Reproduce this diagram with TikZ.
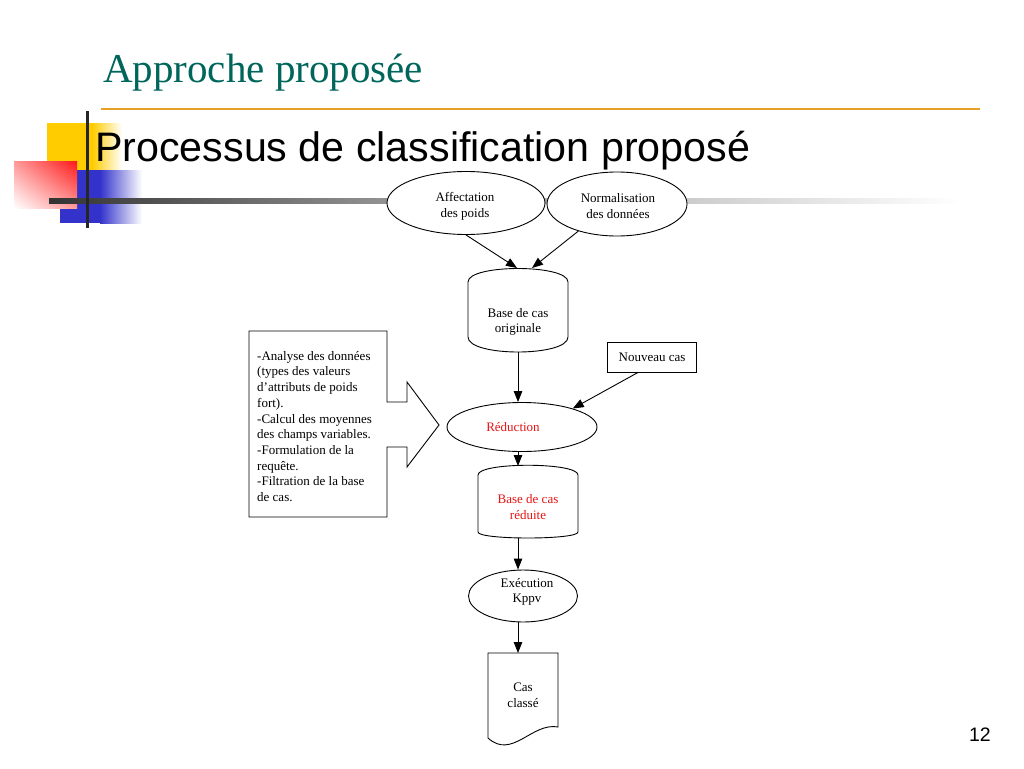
\documentclass[tikz,border=0pt]{standalone}
\usepackage{fontspec}
\setmainfont{Liberation Serif}
\newfontfamily\sansfont{Liberation Sans}
\usetikzlibrary{arrows.meta,shapes,shadings,positioning}
\definecolor{titre}{RGB}{0,102,92}
\definecolor{filet}{RGB}{230,160,40}
\definecolor{jaune}{RGB}{255,204,0}
\definecolor{bleu}{RGB}{51,51,204}
\definecolor{rouge}{RGB}{255,25,25}
\definecolor{texterouge}{RGB}{230,20,20}
\tikzset{boite/.style={draw, fill=white, line width=0.9pt, align=center, font=\fontsize{13}{15.7}\selectfont}}
\tikzset{ovale/.style={boite, ellipse, inner sep=0pt}}
\tikzset{texte/.style={align=center, inner sep=0pt, font=\fontsize{13}{15.7}\selectfont}}
\tikzset{fleche/.style={-{Triangle[length=11pt,width=8.5pt]}, line width=0.9pt}}

\begin{document}
\begin{tikzpicture}[x=1pt,y=-1pt]
\useasboundingbox[fill=white] (0,0) rectangle (1024,768);

% decor de la diapositive
\fill[jaune] (47,123) rectangle (92,170);
\shade[left color=jaune, right color=white] (92,123) rectangle (122,170);
\fill[bleu] (60,170) rectangle (100,223);
\shade[left color=bleu, right color=white] (100,170) rectangle (142,223);
\shade[upper left=rouge!45, upper right=rouge, lower left=white, lower right=rouge!45] (14,161) rectangle (77,208);
\shade[left color=black!80, right color=black!42] (49,198.5) rectangle (390,203.5);
\shade[left color=black!42, right color=white] (390,198.5) rectangle (960,203.5);
\draw[line width=3pt, black!85] (87,111) -- (87,228);
\draw[line width=2pt, filet] (101,109) -- (980,109);

\node[anchor=base west, inner sep=0pt, text=titre, font=\fontsize{41}{41}\selectfont] (titre) at (103,82) {Approche proposée};
\node[anchor=base west, inner sep=0pt, font=\sansfont\fontsize{41.2}{41.2}\selectfont] (soustitre) at (95,161) {Processus de classification proposé};
\node[anchor=base east, inner sep=0pt, font=\sansfont\fontsize{19.5}{19.5}\selectfont] (page) at (991,741) {12};

% ellipses du haut
\node[ovale, minimum width=158, minimum height=63] (affect) at (466,203) {};
\node[texte] (affecttxt) at (465,206) {Affectation\\des poids};
\node[ovale, minimum width=140, minimum height=64] (norm) at (617,204) {};
\node[texte] (normtxt) at (618,206) {Normalisation\\des données};

% base de cas originale
\draw[line width=0.9pt] (468,282) .. controls (468,264) and (568,264) .. (568,282) -- (568,337)
  .. controls (568,357) and (468,357) .. (468,337) -- cycle;
\node[texte] (orig) at (518,322) {Base de cas\\originale};
\coordinate (origtop) at (517,268);
\coordinate (origbas) at (518,352);

\draw[fleche] (affect.south) -- (origtop);
\draw[fleche] (norm.215) -- ([xshift=15pt]origtop);

% reduction
\node[ovale, minimum width=150, minimum height=49] (reduc) at (522,427) {};
\node[texte, text=texterouge] (reductxt) at (513,427) {Réduction};
\node[boite, minimum width=89, minimum height=30] (nouv) at (652,357) {Nouveau cas};
\draw[fleche] (origbas) -- (reduc.north -| origbas);
\draw[fleche] ([xshift=-14pt]nouv.south) -- (reduc.20);

% bloc d'analyse
\draw[line width=0.9pt] (249,331) -- (387,331) -- (387,402) -- (407,402) -- (407,382) -- (439,425)
  -- (407,467) -- (407,447) -- (387,447) -- (387,517) -- (249,517) -- cycle;
\node[anchor=north west, inner sep=0pt, align=left, font=\fontsize{13}{15.7}\selectfont] (analyse) at (257,351) {-Analyse des données\\(types des valeurs\\d'attributs de poids\\fort).\\-Calcul des moyennes\\des champs variables.\\-Formulation de la\\requête.\\-Filtration de la base\\de cas.};

% base de cas reduite
\draw[line width=0.9pt] (478,475) .. controls (478,462) and (578,462) .. (578,475) -- (578,532)
  .. controls (578,540) and (478,540) .. (478,532) -- cycle;
\node[texte, text=texterouge] (reduite) at (528,507) {Base de cas\\réduite};
\coordinate (redtop) at (518,466);
\coordinate (redbas) at (518,538);
\draw[fleche] (reduc.south -| redtop) -- (redtop);

% execution et resultat
\node[ovale, minimum width=109, minimum height=52] (exec) at (523,596) {};
\node[texte] (exectxt) at (527,592) {Exécution\\Kppv};
\draw[fleche] (redbas) -- (exec.north -| redbas);
\coordinate (doctop) at (518,653);
\draw[fleche] (exec.south -| doctop) -- (doctop);
\draw[line width=0.9pt] (488,653) -- (558,653) -- (558,727) .. controls (532,722) and (512,760) .. (488,738) -- cycle;
\node[texte] (classe) at (523,695) {Cas\\classé};

\end{tikzpicture}
\end{document}
